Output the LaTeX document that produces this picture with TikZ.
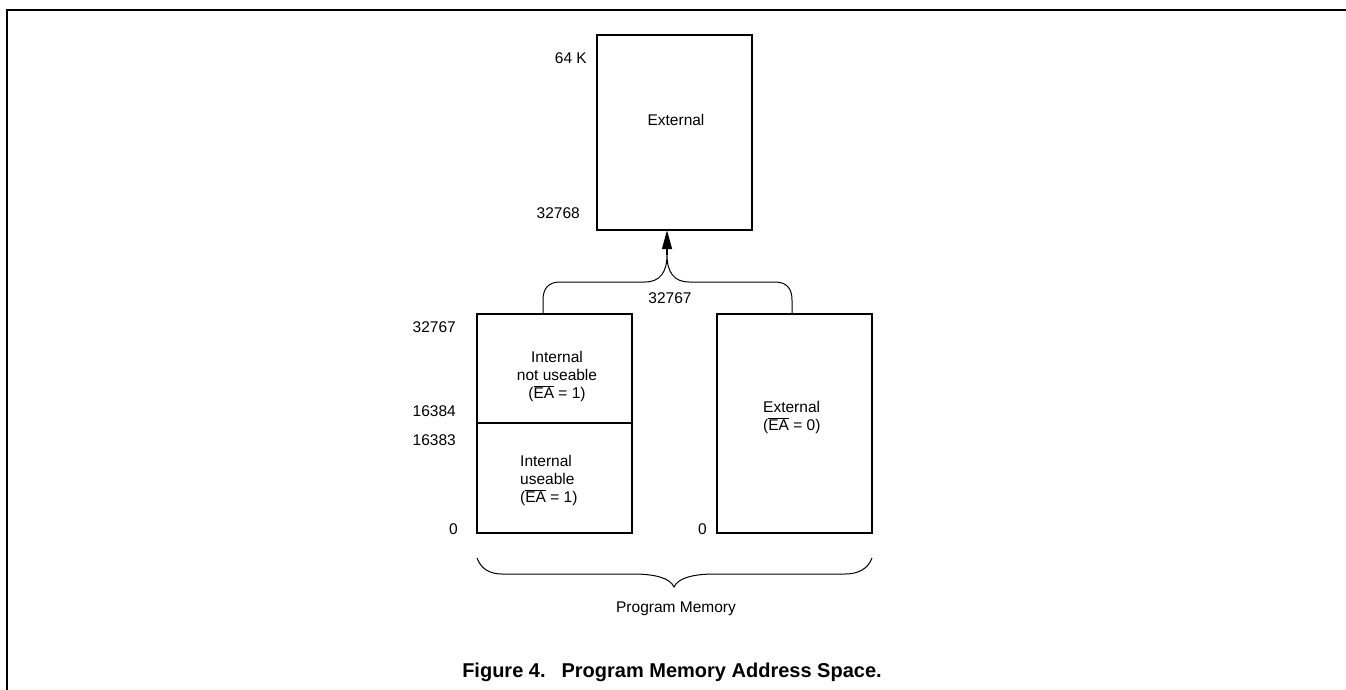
\documentclass[tikz,border=0pt]{standalone}
\usepackage{fontspec}
\setmainfont{Liberation Sans}
\usetikzlibrary{arrows.meta}
\begin{document}
\begin{tikzpicture}[x=1pt,y=-1pt,
  membox/.style={draw, line width=2.4pt, minimum width=155pt, inner sep=0pt},
  lbl/.style={font=\fontsize{15.5}{18}\selectfont, inner sep=0pt},
  thin/.style={line width=1pt},
]
\useasboundingbox (0,0) rectangle (1346,690);
% frame
\draw[line width=2.5pt] (7,690) -- (7,10) -- (1346,10);

% boxes
\node[membox, minimum height=195pt] (top) at (674.5,132.5) {};
\node[membox, minimum height=219pt] (left) at (554.5,423.5) {};
\node[membox, minimum height=219pt] (right) at (794.5,423.5) {};
\draw[line width=1.5pt] (left.west |- 0,423) -- (left.east |- 0,423);

% texts inside
\node[lbl] (textop) at (676,120) {External};
\node[lbl, align=center] (tinu) at (557,376) {Internal\\not useable\\($\overline{\mbox{EA}}$ = 1)};
\node[lbl, align=left, anchor=west] (tiu) at (520,480) {Internal\\useable\\($\overline{\mbox{EA}}$ = 1)};
\node[lbl, align=left, anchor=west] (text) at (763,417) {External\\($\overline{\mbox{EA}}$ = 0)};

% address labels
\node[lbl, anchor=east] (a64k) at (587,58) {64 K};
\node[lbl, anchor=east] (a32768) at (580,213) {32768};
\node[lbl, anchor=east] (a32767) at (456,327) {32767};
\node[lbl, anchor=east] (a16384) at (456,411) {16384};
\node[lbl, anchor=east] (a16383) at (456,440) {16383};
\node[lbl, anchor=east] (a0l) at (458,529) {0};
\node[lbl, anchor=east] (a0r) at (707,529) {0};
\node[lbl] (mid) at (670,298) {32767};

% upper brace
\coordinate (bl) at (left.north -| 543,0);
\coordinate (br) at (right.north -| 792,0);
\coordinate (cusp) at (667,255);
\draw[thin] (bl) -- (543,300) .. controls (543,289) and (548,282) .. (560,282)
  -- (645,282) .. controls (660,282) and (667,272) .. (cusp)
  .. controls (667,272) and (674,282) .. (689,282)
  -- (775,282) .. controls (787,282) and (792,289) .. (792,300) -- (br);
\draw[line width=1.5pt, -{Triangle[length=19pt,width=10pt]}] (cusp) -- ([yshift=1pt]top.south -| cusp);

% lower brace
\coordinate (ll) at (477,558);
\coordinate (lr) at (872,558);
\coordinate (lc) at (674,587);
\draw[thin] (ll) .. controls (481,569) and (490,574) .. (502,574)
  -- (633,574) .. controls (655,574) and (670,578) .. (lc)
  .. controls (678,578) and (693,574) .. (715,574)
  -- (845,574) .. controls (858,574) and (868,569) .. (lr);
\node[lbl] (pm) at (676,609) {Program Memory};

% caption
\node[font=\fontsize{20}{24}\selectfont\bfseries, inner sep=0pt] (cap) at (672,672) {Figure 4.\hspace{16pt}Program Memory Address Space.};
\end{tikzpicture}
\end{document}
